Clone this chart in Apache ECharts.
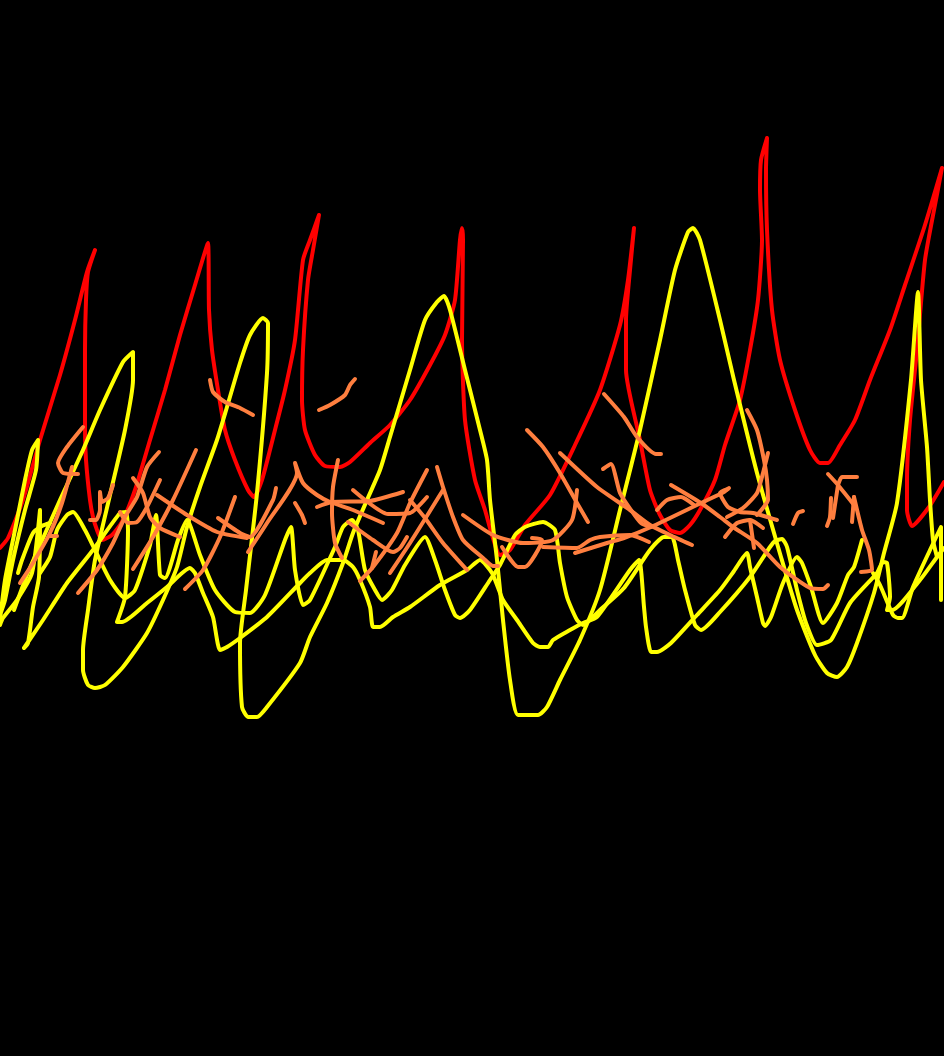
<!DOCTYPE html>
<html><head><meta charset="utf-8">
<style>html,body{margin:0;padding:0;background:#000}#c{width:944px;height:1056px}</style>
<script src="https://cdn.jsdelivr.net/npm/echarts@6/dist/echarts.min.js"></script>
</head><body><div id="c"></div>
<script>
const redTrace=[[0,548],[8,538],[23,500],[40,440],[60,375],[75,320],[87,272],[95,250],[88,272],[86,300],[85,350],[85,430],[86,460],[90,500],[93,517],[97,530],[102,540],[112,535],[122,522],[135,490],[150,440],[165,390],[180,335],[195,285],[208,243],[209,310],[212,350],[218,390],[225,430],[235,460],[248,490],[254,497],[262,480],[275,430],[285,390],[295,340],[303,260],[310,240],[319,215],[313,250],[308,280],[303,350],[302,400],[305,430],[315,455],[325,466],[340,467],[350,462],[370,443],[390,425],[410,400],[430,365],[445,335],[455,300],[460,240],[462,228],[463,240],[462,340],[465,420],[475,480],[485,510],[492,535],[500,555],[510,550],[525,525],[550,495],[575,445],[600,390],[620,325],[628,280],[634,228],[630,270],[626,320],[626,370],[640,440],[650,490],[660,515],[670,530],[680,533],[690,525],[700,510],[715,480],[725,445],[740,400],[750,350],[758,300],[762,240],[760,190],[761,160],[767,138],[766,170],[767,230],[772,310],[780,360],[795,410],[810,450],[820,463],[828,463],[840,445],[855,420],[870,380],[890,330],[905,285],[925,225],[942,168],[935,205],[925,260],[917,350],[910,420],[907,480],[907,510],[912,526],[929,507],[944,482]];

const yellowSpike=[[0,620],[5,580],[15,530],[25,480],[32,450],[38,440],[36,470],[25,510],[13,560],[5,600],[0,615]];
const yellowLow=[[0,625],[3,618],[17,600],[32,573],[40,510],[39,577],[33,607],[28,643],[24,648],[43,620],[67,583],[93,550],[120,513],[126,512],[128,530],[125,597],[117,622],[122,622],[147,603],[167,587],[190,568],[195,573],[203,593],[213,617],[220,650],[227,647],[240,638],[267,617],[300,583],[310,573],[327,560],[343,560],[353,567],[360,580],[370,607],[373,627],[380,627],[393,617],[410,607],[440,585],[467,570],[480,560],[492,573],[503,600],[517,620],[533,643],[540,647],[548,647],[553,640],[570,630],[583,623],[597,617],[630,570],[639,560],[644,607],[646,627],[651,652],[657,652],[671,643],[697,615],[720,590],[734,571],[747,553],[750,567],[757,597],[763,623],[765,626],[771,617],[783,583],[797,557],[802,563],[811,587],[823,623],[837,603],[848,575],[854,567],[862,540]];
const yellowHook=[[18,573],[22,560],[33,533],[42,526],[50,523]];
const yellowMid=[[40,573],[50,557],[57,530],[67,515],[73,512],[85,530],[95,550],[110,580],[125,598],[135,590],[150,545],[156,515],[160,575],[165,578],[178,540],[187,520],[200,555],[215,590],[235,612],[250,613],[265,595],[285,540],[291,527],[295,570],[303,605],[310,600],[335,547],[343,527],[352,520],[358,530],[365,570],[375,590],[382,600],[392,590],[405,565],[425,537],[435,560],[445,590],[455,615],[460,618],[470,610],[490,580],[500,565],[515,535],[525,527],[543,522],[555,530],[560,563],[567,597],[577,620],[583,625],[600,610],[624,588],[650,550],[664,537],[672,537],[678,560],[685,590],[695,625],[701,630],[720,612],[750,577],[770,547],[775,541],[782,539],[787,547],[797,590],[806,623],[817,645],[831,640],[850,603],[877,573],[883,562],[887,563],[890,597],[887,610],[892,610],[920,580],[937,557],[944,548]];
const yellowHigh=[[14,610],[27,575],[40,545],[60,500],[83,450],[100,410],[123,362],[133,352],[133,380],[125,430],[110,495],[95,560],[88,610],[83,650],[83,670],[88,685],[95,688],[105,685],[123,667],[147,633],[163,600],[177,567],[187,527],[200,487],[217,440],[227,407],[240,363],[250,335],[263,318],[268,323],[267,373],[257,493],[246,590],[240,643],[242,707],[248,717],[257,717],[267,707],[300,663],[310,637],[327,603],[343,563],[353,533],[367,500],[380,470],[390,437],[410,370],[425,320],[437,302],[444,296],[450,310],[465,370],[480,430],[487,460],[490,500],[497,560],[503,620],[510,680],[518,715],[538,715],[547,707],[560,680],[580,640],[600,590],[620,510],[640,430],[660,340],[675,270],[688,232],[693,228],[700,240],[720,320],[734,380],[757,473],[781,557],[797,610],[815,655],[827,673],[837,677],[847,667],[857,643],[874,593],[884,553],[897,503],[911,380],[918,292],[921,380],[927,447],[930,500],[933,540],[937,557]];
const yellowTail=[[873,573],[880,585],[893,615],[898,618],[902,618],[913,587],[930,550],[941,527],[941,600]];

const orange01=[[83,427],[67,447],[58,463],[63,473],[78,474]];
const orange02=[[72,467],[62,503],[50,533],[33,563],[20,583]];
const orange03=[[50,536],[57,536]];
const orange04=[[113,485],[108,498],[102,502],[100,492],[100,510],[96,520],[90,520]];
const orange05=[[159,452],[147,467],[137,497],[125,517],[113,543],[97,570],[78,593]];
const orange06=[[133,478],[143,493],[150,517],[160,528],[180,537]];
const orange07=[[196,450],[173,500],[153,537],[133,569]];
const orange08=[[120,512],[128,523],[137,522],[147,507],[160,480]];
const orange09=[[157,495],[187,515],[217,532],[247,538]];
const orange10=[[235,497],[220,537],[203,570],[185,589]];
const orange11=[[210,380],[213,392],[225,402],[240,408],[253,415]];
const orange12=[[319,410],[330,405],[345,395],[350,385],[355,379]];
const orange13=[[218,518],[240,533],[250,537],[273,500],[276,488]];
const orange14=[[248,552],[267,523],[297,473],[295,463],[303,483],[317,495],[330,502],[353,510],[383,523]];
const orange15=[[295,503],[302,515],[305,523]];
const orange16=[[338,460],[333,487],[332,513],[335,543],[342,558]];
const orange17=[[317,507],[332,502],[370,501],[403,492]];
const orange18=[[353,490],[388,514],[410,513],[427,497]];
const orange19=[[427,470],[410,503],[397,533],[373,567],[360,581]];
const orange20=[[376,552],[372,568]];
const orange21=[[348,522],[373,540],[393,552],[400,548],[407,537]];
const orange22=[[390,573],[410,543],[443,490]];
const orange23=[[437,467],[443,487],[453,517],[463,540],[483,558],[493,566],[498,566]];
const orange24=[[410,500],[425,518],[443,543],[467,570]];
const orange25=[[463,515],[493,535],[523,543],[553,540],[572,520],[577,490]];
const orange26=[[502,547],[518,567],[525,567],[542,540],[532,538]];
const orange27=[[527,430],[543,447],[560,473],[577,503],[588,522]];
const orange28=[[560,453],[597,487],[630,510],[650,525],[670,535],[692,545]];
const orange29=[[543,547],[577,548],[590,540],[600,537],[630,535],[649,542]];
const orange30=[[575,553],[607,543],[624,538],[651,527],[701,503],[724,492],[729,488]];
const orange31=[[604,394],[624,417],[637,437],[656,454],[661,454]];
const orange32=[[603,469],[611,464],[620,493],[631,510],[641,523],[651,527]];
const orange33=[[671,485],[701,503],[720,517],[733,527],[757,543],[780,567],[810,588],[823,589],[828,585]];
const orange34=[[657,510],[667,500],[681,497],[694,505]];
const orange35=[[728,489],[720,493],[728,507],[740,512],[753,513],[777,520]];
const orange36=[[727,517],[743,508],[757,493],[763,473],[768,453]];
const orange37=[[747,410],[757,430],[764,460],[767,480],[768,500],[763,508],[757,515]];
const orange39=[[725,537],[737,523],[750,520],[763,528]];
const orange40=[[750,520],[754,548]];
const orange41=[[793,524],[798,513],[803,511]];
const orange42=[[828,474],[838,485],[854,505]];
const orange43=[[838,485],[842,477],[857,477]];
const orange44=[[838,485],[833,518]];
const orange45=[[831,498],[830,517],[827,526]];
const orange46=[[854,497],[852,522]];
const orange47=[[854,497],[862,530],[869,550],[872,570],[861,572]];

const redLines=[redTrace];
const yellowLines=[yellowSpike,yellowLow,yellowHook,yellowMid,yellowHigh,yellowTail];
const orangeLines=[orange01,orange02,orange03,orange04,orange05,orange06,orange07,orange08,orange09,orange10,orange11,orange12,orange13,orange14,orange15,orange16,orange17,orange18,orange19,orange20,orange21,orange22,orange23,orange24,orange25,orange26,orange27,orange28,orange29,orange30,orange31,orange32,orange33,orange34,orange35,orange36,orange37,orange39,orange40,orange41,orange42,orange43,orange44,orange45,orange46,orange47];

function lineSeries(d,color,z){
  return {type:'line',data:d,showSymbol:false,symbol:'none',silent:true,z:z,smooth:0.2,
    lineStyle:{color:color,width:4,cap:'round',join:'round'}};
}
const series=[
  ...redLines.map(d=>lineSeries(d,'#ff0000',1)),
  ...yellowLines.map(d=>lineSeries(d,'#ffff00',2)),
  ...orangeLines.map(d=>lineSeries(d,'#ff7f3f',3))
];
const chart=echarts.init(document.getElementById('c'),null,{renderer:'canvas'});
chart.setOption({
  backgroundColor:'#000000',
  animation:false,
  grid:{left:0,right:0,top:0,bottom:0},
  xAxis:{type:'value',min:0,max:944,show:false},
  yAxis:{type:'value',min:0,max:1056,inverse:true,show:false},
  tooltip:{show:false},
  series:series
});
</script></body></html>
